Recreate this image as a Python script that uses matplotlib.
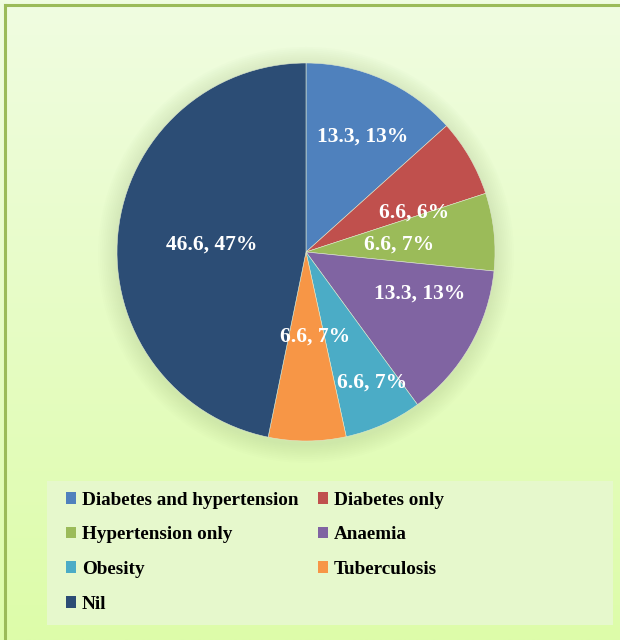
import matplotlib
matplotlib.use('Agg')
import matplotlib.pyplot as plt
import matplotlib.patches as mpatches
import matplotlib.lines as mlines
import numpy as np

plt.rcParams['font.family'] = ['Liberation Serif', 'DejaVu Serif']

categories = ['Diabetes and hypertension', 'Diabetes only', 'Hypertension only',
              'Anaemia', 'Obesity', 'Tuberculosis', 'Nil']
values = [13.3, 6.6, 6.6, 13.3, 6.6, 6.6, 46.6]
pct_labels = ['13%', '6%', '7%', '13%', '7%', '7%', '47%']
colors = ['#4f81bd', '#c0504d', '#9bbb59', '#8064a2', '#4bacc6', '#f79646', '#2c4d75']

# label positions in units of the pie radius (Excel "best fit" placement)
label_pos = [(0.30, 0.61), (0.57, 0.21), (0.49, 0.04), (0.60, -0.22),
             (0.35, -0.69), (0.05, -0.45), (-0.50, 0.04)]

W, H = 620, 640
fig = plt.figure(figsize=(W / 100, H / 100), dpi=100)

# gradient background
bg = fig.add_axes([0, 0, 1, 1], zorder=-10)
top = np.array([0xf0, 0xfd, 0xe1]) / 255
bot = np.array([0xdd, 0xfc, 0xa9]) / 255
t = np.linspace(0, 1, 256)[:, None]
grad = (1 - t) * top + t * bot
bg.imshow(grad[:, None, :], aspect='auto', extent=[0, 1, 0, 1])
bg.set_xlim(0, 1)
bg.set_ylim(0, 1)
bg.axis('off')

# green border, only left and top edges fall inside the picture
bx, by = 5 / W, 1 - 4.5 / H
fig.add_artist(mlines.Line2D([bx, bx], [0, by], color='#9bbb59', linewidth=2.2,
                             transform=fig.transFigure))
fig.add_artist(mlines.Line2D([bx, 1], [by, by], color='#9bbb59', linewidth=2.2,
                             transform=fig.transFigure))

# legend box
bg.add_patch(mpatches.Rectangle((47 / W, 1 - 625 / H), 566 / W, 144 / H,
                                facecolor='#e6f8cc', edgecolor='none',
                                transform=bg.transAxes))

cx, cy, r = 306, 252, 189
ax = fig.add_axes([(cx - r) / W, 1 - (cy + r) / H, 2 * r / W, 2 * r / H])

# soft shadow
for k in range(10):
    ax.add_patch(mpatches.Circle((0.0, -0.015), 1.0 + 0.01 * (10 - k),
                                 facecolor='#a9c48e', edgecolor='none',
                                 alpha=0.03, zorder=0, clip_on=False))

wedges, _ = ax.pie(values, colors=colors, startangle=90, counterclock=False,
                   radius=1.0, wedgeprops=dict(edgecolor='#dfe9d0', linewidth=0.4))
for w in wedges:
    w.set_zorder(2)

for v, p, (lx, ly) in zip(values, pct_labels, label_pos):
    ax.text(lx, ly, f'{v}, {p}', ha='center', va='center', color='white',
            fontsize=15.5, fontweight='bold', zorder=5)

ax.set_xlim(-1, 1)
ax.set_ylim(-1, 1)
ax.set_aspect('equal')
ax.axis('off')

# legend is filled row by row in the reference
order = [0, 2, 4, 6, 1, 3, 5]
handles = [mpatches.Patch(facecolor=colors[i], edgecolor='none') for i in order]
labels = [categories[i] for i in order]
fig.legend(handles, labels, loc='upper left',
           bbox_to_anchor=(58 / W, 1 - 484 / H), ncol=2, frameon=False,
           prop={'weight': 'bold', 'size': 13.8},
           handlelength=0.55, handleheight=0.55, handletextpad=0.3,
           columnspacing=1.0, labelspacing=0.92, borderaxespad=0)

fig.savefig('out.png', dpi=100)
